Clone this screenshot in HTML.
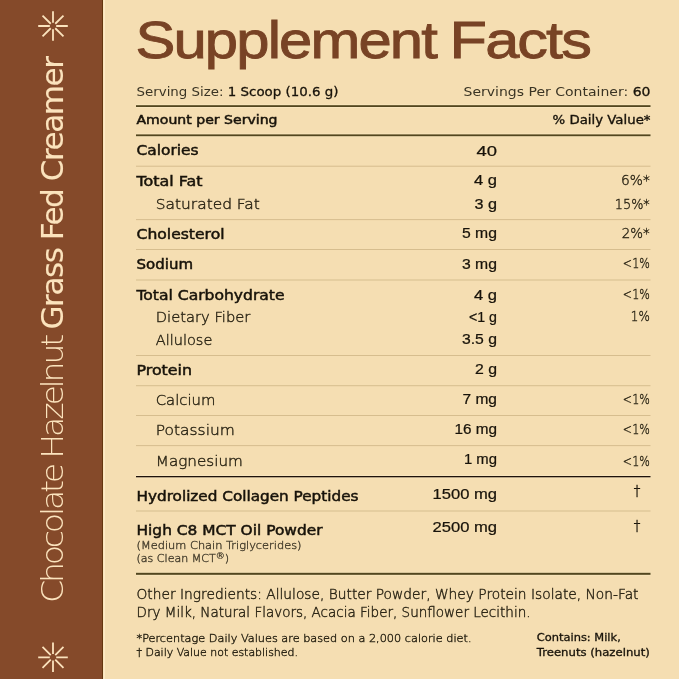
<!DOCTYPE html>
<html><head><meta charset="utf-8"><title>Supplement Facts</title>
<style>
html,body{margin:0;padding:0;width:679px;height:679px;overflow:hidden;background:#f5deb2;}
svg{display:block;will-change:transform;font-family:"DejaVu Sans",sans-serif;}
</style></head><body>
<svg width="679" height="679" viewBox="0 0 679 679">
<rect x="0" y="0" width="679" height="679" fill="#f5deb2"/>
<rect x="0" y="0" width="103" height="679" fill="#854a2a"/>
<rect x="102" y="0" width="1" height="679" fill="#64360f"/>
<rect x="103.4" y="0" width="1.6" height="679" fill="#fde9c6"/>
<path d="M56.20 26.00L67.80 26.00M55.26 28.26L63.47 36.47M53.00 29.20L53.00 40.80M50.74 28.26L42.53 36.47M49.80 26.00L38.20 26.00M50.74 23.74L42.53 15.53M53.00 22.80L53.00 11.20M55.26 23.74L63.47 15.53" stroke="#fbe3bd" stroke-width="1.8" fill="none"/>
<path d="M56.20 657.30L67.80 657.30M55.26 659.56L63.47 667.77M53.00 660.50L53.00 672.10M50.74 659.56L42.53 667.77M49.80 657.30L38.20 657.30M50.74 655.04L42.53 646.83M53.00 654.10L53.00 642.50M55.26 655.04L63.47 646.83" stroke="#fbe3bd" stroke-width="1.8" fill="none"/>
<g transform="translate(62.6,603) rotate(-90)">
<text x="0" y="0" font-size="30.8" font-family="DejaVu Sans" font-weight="200" fill="#fbe3bd" letter-spacing="-3" textLength="266" lengthAdjust="spacingAndGlyphs">Chocolate Hazelnut</text>
<text x="273.5" y="0" font-size="30.8" font-family="DejaVu Sans" letter-spacing="-1.5" fill="#fbe3bd" stroke="#fbe3bd" stroke-width="0.1" textLength="272" lengthAdjust="spacingAndGlyphs">Grass Fed Creamer</text>
</g>
<text x="135.4" y="58.3" font-size="51.8" fill="#784325" stroke="#784325" stroke-width="0.85" textLength="300.6" lengthAdjust="spacingAndGlyphs" letter-spacing="-1.6" font-family="Liberation Sans, sans-serif">Supplement</text>
<text x="449.6" y="58.3" font-size="51.8" fill="#784325" stroke="#784325" stroke-width="0.85" textLength="140.4" lengthAdjust="spacingAndGlyphs" letter-spacing="-1.6" font-family="Liberation Sans, sans-serif">Facts</text>
<text x="136.5" y="95.6" font-size="12.6" fill="#3a3424" textLength="202" lengthAdjust="spacingAndGlyphs">Serving Size: <tspan fill="#18130a" stroke="#18130a" stroke-width="0.3">1 Scoop (10.6 g)</tspan></text>
<text x="650.5" y="95.6" font-size="12.6" fill="#3a3424" text-anchor="end" textLength="187" lengthAdjust="spacingAndGlyphs">Servings Per Container: <tspan fill="#18130a" stroke="#18130a" stroke-width="0.3">60</tspan></text>
<rect x="136.0" y="104.2" width="514.5" height="1" fill="#fbe8c2" opacity="0.7"/>
<rect x="136.0" y="107.0" width="514.5" height="1" fill="#fbe8c2" opacity="0.7"/>
<rect x="136.0" y="105.2" width="514.5" height="1.8" fill="#52461f"/>
<text x="136.5" y="124.3" font-size="12.4" fill="#18130a" stroke="#18130a" stroke-width="0.5" textLength="141" lengthAdjust="spacingAndGlyphs">Amount per Serving</text>
<text x="650.5" y="124.3" font-size="12.6" fill="#18130a" stroke="#18130a" stroke-width="0.35" text-anchor="end" textLength="98" lengthAdjust="spacingAndGlyphs">% Daily Value*</text>
<rect x="136.0" y="133.4" width="514.5" height="1" fill="#fbe8c2" opacity="0.7"/>
<rect x="136.0" y="136.2" width="514.5" height="1" fill="#fbe8c2" opacity="0.7"/>
<rect x="136.0" y="134.4" width="514.5" height="1.8" fill="#52461f"/>
<text x="136.5" y="154.5" font-size="14.2" fill="#18130a" stroke="#18130a" stroke-width="0.5" textLength="62" lengthAdjust="spacingAndGlyphs">Calories</text>
<text x="497" y="155.8" font-size="13.8" fill="#18130a" stroke="#18130a" stroke-width="0.22" text-anchor="end" textLength="20.5" lengthAdjust="spacingAndGlyphs" font-family="Liberation Sans, sans-serif">40</text>
<text x="136.5" y="185.8" font-size="14.2" fill="#18130a" stroke="#18130a" stroke-width="0.5" textLength="66" lengthAdjust="spacingAndGlyphs">Total Fat</text>
<text x="497" y="185.4" font-size="13.8" fill="#18130a" stroke="#18130a" stroke-width="0.22" text-anchor="end" textLength="23" lengthAdjust="spacingAndGlyphs" font-family="Liberation Sans, sans-serif">4 g</text>
<text x="649.8" y="185.2" font-size="14.3" font-weight="200" fill="#2c2616" stroke="#2c2616" stroke-width="0.4" text-anchor="end" textLength="28.8" lengthAdjust="spacingAndGlyphs">6%*</text>
<text x="155.8" y="208.6" font-size="14.2" font-weight="200" fill="#2c2616" stroke="#2c2616" stroke-width="0.4" textLength="104" lengthAdjust="spacingAndGlyphs">Saturated Fat</text>
<text x="497" y="208.5" font-size="13.8" fill="#18130a" stroke="#18130a" stroke-width="0.22" text-anchor="end" textLength="22.5" lengthAdjust="spacingAndGlyphs" font-family="Liberation Sans, sans-serif">3 g</text>
<text x="649.8" y="209.2" font-size="14.3" font-weight="200" fill="#2c2616" stroke="#2c2616" stroke-width="0.4" text-anchor="end" textLength="35" lengthAdjust="spacingAndGlyphs">15%*</text>
<text x="136.5" y="239.2" font-size="14.2" fill="#18130a" stroke="#18130a" stroke-width="0.5" textLength="88" lengthAdjust="spacingAndGlyphs">Cholesterol</text>
<text x="497" y="238.0" font-size="13.8" fill="#18130a" stroke="#18130a" stroke-width="0.22" text-anchor="end" textLength="35" lengthAdjust="spacingAndGlyphs" font-family="Liberation Sans, sans-serif">5 mg</text>
<text x="649.8" y="237.9" font-size="14.3" font-weight="200" fill="#2c2616" stroke="#2c2616" stroke-width="0.4" text-anchor="end" textLength="28" lengthAdjust="spacingAndGlyphs">2%*</text>
<text x="136.5" y="269.3" font-size="14.2" fill="#18130a" stroke="#18130a" stroke-width="0.5" textLength="56.5" lengthAdjust="spacingAndGlyphs">Sodium</text>
<text x="497" y="268.9" font-size="13.8" fill="#18130a" stroke="#18130a" stroke-width="0.22" text-anchor="end" textLength="35" lengthAdjust="spacingAndGlyphs" font-family="Liberation Sans, sans-serif">3 mg</text>
<text x="649.8" y="268.2" font-size="14.3" font-weight="200" fill="#2c2616" stroke="#2c2616" stroke-width="0.4" text-anchor="end" textLength="27" lengthAdjust="spacingAndGlyphs">&lt;1%</text>
<text x="136.5" y="299.5" font-size="14.2" fill="#18130a" stroke="#18130a" stroke-width="0.5" textLength="148" lengthAdjust="spacingAndGlyphs">Total Carbohydrate</text>
<text x="497" y="299.5" font-size="13.8" fill="#18130a" stroke="#18130a" stroke-width="0.22" text-anchor="end" textLength="23" lengthAdjust="spacingAndGlyphs" font-family="Liberation Sans, sans-serif">4 g</text>
<text x="649.8" y="299.0" font-size="14.3" font-weight="200" fill="#2c2616" stroke="#2c2616" stroke-width="0.4" text-anchor="end" textLength="27" lengthAdjust="spacingAndGlyphs">&lt;1%</text>
<text x="155.8" y="322.3" font-size="14.2" font-weight="200" fill="#2c2616" stroke="#2c2616" stroke-width="0.4" textLength="94.5" lengthAdjust="spacingAndGlyphs">Dietary Fiber</text>
<text x="497" y="321.9" font-size="13.8" fill="#18130a" stroke="#18130a" stroke-width="0.22" text-anchor="end" textLength="28" lengthAdjust="spacingAndGlyphs" font-family="Liberation Sans, sans-serif">&lt;1 g</text>
<text x="649.8" y="320.8" font-size="14.3" font-weight="200" fill="#2c2616" stroke="#2c2616" stroke-width="0.4" text-anchor="end" textLength="19" lengthAdjust="spacingAndGlyphs">1%</text>
<text x="155.8" y="345.0" font-size="14.2" font-weight="200" fill="#2c2616" stroke="#2c2616" stroke-width="0.4" textLength="56.5" lengthAdjust="spacingAndGlyphs">Allulose</text>
<text x="497" y="344.3" font-size="13.8" fill="#18130a" stroke="#18130a" stroke-width="0.22" text-anchor="end" textLength="35" lengthAdjust="spacingAndGlyphs" font-family="Liberation Sans, sans-serif">3.5 g</text>
<text x="136.5" y="374.9" font-size="14.2" fill="#18130a" stroke="#18130a" stroke-width="0.5" textLength="55.5" lengthAdjust="spacingAndGlyphs">Protein</text>
<text x="497" y="374.0" font-size="13.8" fill="#18130a" stroke="#18130a" stroke-width="0.22" text-anchor="end" textLength="22" lengthAdjust="spacingAndGlyphs" font-family="Liberation Sans, sans-serif">2 g</text>
<text x="155.8" y="405.1" font-size="14.2" font-weight="200" fill="#2c2616" stroke="#2c2616" stroke-width="0.4" textLength="59.5" lengthAdjust="spacingAndGlyphs">Calcium</text>
<text x="497" y="403.9" font-size="13.8" fill="#18130a" stroke="#18130a" stroke-width="0.22" text-anchor="end" textLength="34.5" lengthAdjust="spacingAndGlyphs" font-family="Liberation Sans, sans-serif">7 mg</text>
<text x="649.8" y="403.9" font-size="14.3" font-weight="200" fill="#2c2616" stroke="#2c2616" stroke-width="0.4" text-anchor="end" textLength="27" lengthAdjust="spacingAndGlyphs">&lt;1%</text>
<text x="155.8" y="435.3" font-size="14.2" font-weight="200" fill="#2c2616" stroke="#2c2616" stroke-width="0.4" textLength="79" lengthAdjust="spacingAndGlyphs">Potassium</text>
<text x="497" y="433.8" font-size="13.8" fill="#18130a" stroke="#18130a" stroke-width="0.22" text-anchor="end" textLength="42.5" lengthAdjust="spacingAndGlyphs" font-family="Liberation Sans, sans-serif">16 mg</text>
<text x="649.8" y="433.9" font-size="14.3" font-weight="200" fill="#2c2616" stroke="#2c2616" stroke-width="0.4" text-anchor="end" textLength="27" lengthAdjust="spacingAndGlyphs">&lt;1%</text>
<text x="155.8" y="465.5" font-size="14.2" font-weight="200" fill="#2c2616" stroke="#2c2616" stroke-width="0.4" textLength="87" lengthAdjust="spacingAndGlyphs">Magnesium</text>
<text x="497" y="464.1" font-size="13.8" fill="#18130a" stroke="#18130a" stroke-width="0.22" text-anchor="end" textLength="33" lengthAdjust="spacingAndGlyphs" font-family="Liberation Sans, sans-serif">1 mg</text>
<text x="649.8" y="465.5" font-size="14.3" font-weight="200" fill="#2c2616" stroke="#2c2616" stroke-width="0.4" text-anchor="end" textLength="27" lengthAdjust="spacingAndGlyphs">&lt;1%</text>
<text x="136.5" y="500.5" font-size="14.2" fill="#18130a" stroke="#18130a" stroke-width="0.5" textLength="222" lengthAdjust="spacingAndGlyphs">Hydrolized Collagen Peptides</text>
<text x="497" y="499.4" font-size="13.8" fill="#18130a" stroke="#18130a" stroke-width="0.22" text-anchor="end" textLength="64.5" lengthAdjust="spacingAndGlyphs" font-family="Liberation Sans, sans-serif">1500 mg</text>
<text x="136.5" y="534.5" font-size="14.2" fill="#18130a" stroke="#18130a" stroke-width="0.5" textLength="186" lengthAdjust="spacingAndGlyphs">High C8 MCT Oil Powder</text>
<text x="497" y="531.6" font-size="13.8" fill="#18130a" stroke="#18130a" stroke-width="0.22" text-anchor="end" textLength="64.5" lengthAdjust="spacingAndGlyphs" font-family="Liberation Sans, sans-serif">2500 mg</text>
<rect x="136.0" y="165.7" width="514.5" height="1" fill="#d6bd8e"/>
<rect x="136.0" y="219.1" width="514.5" height="1" fill="#d6bd8e"/>
<rect x="136.0" y="249.0" width="514.5" height="1" fill="#d6bd8e"/>
<rect x="136.0" y="279.5" width="514.5" height="1" fill="#d6bd8e"/>
<rect x="136.0" y="355.0" width="514.5" height="1" fill="#d6bd8e"/>
<rect x="136.0" y="385.2" width="514.5" height="1" fill="#d6bd8e"/>
<rect x="136.0" y="415.0" width="514.5" height="1" fill="#d6bd8e"/>
<rect x="136.0" y="445.1" width="514.5" height="1" fill="#d6bd8e"/>
<rect x="136.0" y="475.0" width="514.5" height="1" fill="#fbe8c2" opacity="0.7"/>
<rect x="136.0" y="477.3" width="514.5" height="1" fill="#fbe8c2" opacity="0.7"/>
<rect x="136.0" y="476.0" width="514.5" height="1.3" fill="#1e120a"/>
<rect x="136.0" y="510.5" width="514.5" height="1" fill="#d6bd8e"/>
<rect x="136.0" y="571.8" width="514.5" height="1" fill="#fbe8c2" opacity="0.7"/>
<rect x="136.0" y="574.8" width="514.5" height="1" fill="#fbe8c2" opacity="0.7"/>
<rect x="136.0" y="572.8" width="514.5" height="2" fill="#52461f"/>
<text x="637" y="495.0" font-size="13.2" font-weight="200" fill="#18130a" stroke="#18130a" stroke-width="0.35" text-anchor="middle">†</text>
<text x="637" y="529.9" font-size="13.2" font-weight="200" fill="#18130a" stroke="#18130a" stroke-width="0.35" text-anchor="middle">†</text>
<text x="136.5" y="548.7" font-size="10.5" font-weight="200" fill="#4a4230" stroke="#4a4230" stroke-width="0.4" textLength="165" lengthAdjust="spacingAndGlyphs">(Medium Chain Triglycerides)</text>
<text x="136.5" y="562.2" font-size="10.5" font-weight="200" fill="#4a4230" stroke="#4a4230" stroke-width="0.4" textLength="92.5" lengthAdjust="spacingAndGlyphs">(as Clean MCT<tspan font-size="8.5" dy="-3">®</tspan><tspan dy="3">)</tspan></text>
<text x="136.5" y="598.6" font-size="13.3" font-weight="200" fill="#2c2616" stroke="#2c2616" stroke-width="0.4" textLength="502" lengthAdjust="spacingAndGlyphs">Other Ingredients: Allulose, Butter Powder, Whey Protein Isolate, Non-Fat</text>
<text x="136.5" y="616.6" font-size="13.3" font-weight="200" fill="#2c2616" stroke="#2c2616" stroke-width="0.4" textLength="394" lengthAdjust="spacingAndGlyphs">Dry Milk, Natural Flavors, Acacia Fiber, Sunflower Lecithin.</text>
<text x="136.5" y="641.6" font-size="10.3" font-weight="200" fill="#2c2616" stroke="#2c2616" stroke-width="0.4" textLength="335" lengthAdjust="spacingAndGlyphs">*Percentage Daily Values are based on a 2,000 calorie diet.</text>
<text x="136.5" y="655.9" font-size="10.3" font-weight="200" fill="#2c2616" stroke="#2c2616" stroke-width="0.4" textLength="161.5" lengthAdjust="spacingAndGlyphs">† Daily Value not established.</text>
<text x="536.8" y="641.2" font-size="10.3" fill="#18130a" stroke="#18130a" stroke-width="0.3" textLength="84" lengthAdjust="spacingAndGlyphs">Contains: Milk,</text>
<text x="536.8" y="656.0" font-size="10.3" fill="#18130a" stroke="#18130a" stroke-width="0.3" textLength="113" lengthAdjust="spacingAndGlyphs">Treenuts (hazelnut)</text>
</svg>
</body></html>
